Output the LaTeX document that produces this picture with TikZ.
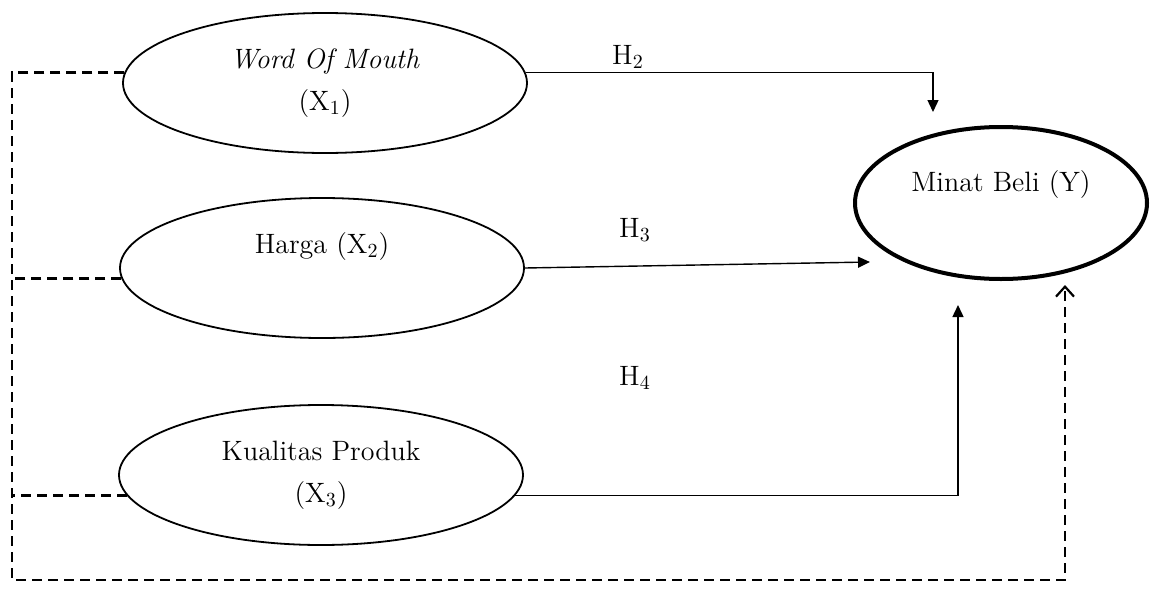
\documentclass[tikz,border=0pt]{standalone}
\usetikzlibrary{positioning, arrows.meta, shapes.geometric, calc}
\tikzset{
  var/.style={draw, ellipse, inner sep=0pt, line width=0.9pt, minimum width=202pt, minimum height=70pt, align=center, font=\fontsize{14}{21}\selectfont},
  dep/.style={draw, ellipse, inner sep=0pt, line width=2pt, minimum width=146pt, minimum height=76pt, align=center, font=\fontsize{14}{16}\selectfont},
  arr/.style={-{Triangle[length=6pt, width=5.5pt]}, line width=0.7pt},
  link/.style={dash pattern=on 5pt off 3pt, line width=1.1pt},
  hyp/.style={font=\fontsize{14}{16}\selectfont, inner sep=0pt}
}
\begin{document}
\begin{tikzpicture}[x=0.5pt, y=-0.5pt]
  \useasboundingbox (0,0) rectangle (1152,611);

  % latent variables
  \node[var] (wom) at (325,83) {\textit{Word Of Mouth}\\(X$_1$)};
  \node[var, text height=9.5pt, text depth=24pt] (harga) at (322,268) {Harga (X$_2$)};
  \node[var] (kualitas) at (321,475) {Kualitas Produk\\(X$_3$)};
  \node[dep, text height=9.5pt, text depth=21pt] (minat) at (1001,203) {Minat Beli (Y)};

  % hypothesis labels
  \node[hyp] (h2) at (628,57) {H$_2$};
  \node[hyp] (h3) at (635,230) {H$_3$};
  \node[hyp] (h4) at (635,378) {H$_4$};

  \coordinate (h2end) at (933,112);
  \coordinate (h3end) at (870,262);
  \coordinate (h4end) at (958,305);
  \coordinate (cb) at (12,580);
  \coordinate (simend) at (1065,285);

  \draw[arr] (wom.3) -| (h2end);
  \draw[arr] (harga.east) -- (h3end);
  \draw[arr] (kualitas.-6) -| (h4end);

  % simultaneous effect
  \draw[link, -{Straight Barb[length=5pt, width=9pt]}] (wom.177) -| (cb) -| (simend);
  \draw[link] (harga.183) -- (harga.183 -| cb);
  \draw[link] (kualitas.186) -- (kualitas.186 -| cb);
\end{tikzpicture}
\end{document}
